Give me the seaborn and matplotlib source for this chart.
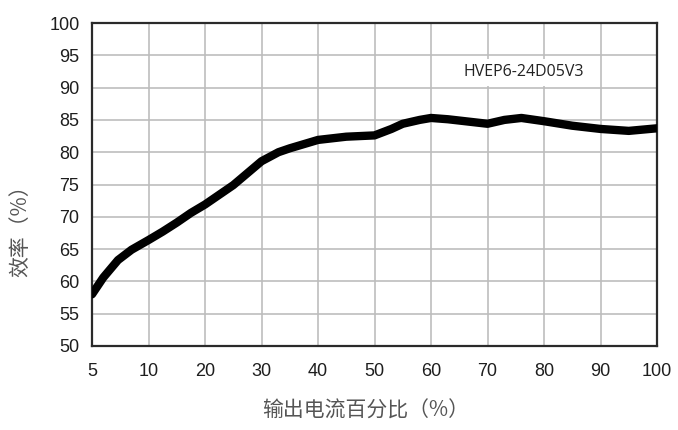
import numpy as np
import pandas as pd
import matplotlib
matplotlib.use("Agg")
import matplotlib.pyplot as plt
import seaborn as sns

# Output load (%) and measured efficiency (%)
load_pct = [5, 6, 7.3, 8.5, 10, 12.5, 15, 17.5, 20, 25, 30, 33, 35, 40, 45, 50,
            53, 55, 58, 60, 63, 67, 70, 73, 76, 80, 85, 90, 95, 100]
efficiency = [58.0, 60.6, 63.3, 64.9, 66.4, 67.7, 69.1, 70.6, 71.9, 74.9, 78.6, 80.0,
              80.6, 81.9, 82.4, 82.6, 83.6, 84.4, 85.0, 85.3, 85.1, 84.7, 84.4,
              85.0, 85.3, 84.8, 84.1, 83.6, 83.3, 83.7]

x_ticks = [5, 10, 20, 30, 40, 50, 60, 70, 80, 90, 100]
y_ticks = [50, 55, 60, 65, 70, 75, 80, 85, 90, 95, 100]
model_name = "HVEP6-24D05V3"
x_label = "输出电流百分比（%）"
y_label = "效率（%）"

df = pd.DataFrame({"load": load_pct, "eff": efficiency})

sns.set_theme(style="white")
plt.rcParams["font.family"] = ["Liberation Sans", "DejaVu Sans"]

fig = plt.figure(figsize=(6.78, 4.30), dpi=100)
ax = fig.add_axes([92 / 678, 1 - 346 / 430, (657 - 92) / 678, (346 - 23) / 430])

# Evenly spaced tick positions on a piecewise-linear load scale
tick_pos = np.arange(len(x_ticks), dtype=float)


def fwd(v):
    return np.interp(v, x_ticks, tick_pos)


def inv(p):
    return np.interp(p, tick_pos, x_ticks)


ax.set_xscale("function", functions=(fwd, inv))

sns.lineplot(data=df, x="load", y="eff", ax=ax, color="black", linewidth=6.0,
             sort=False, solid_capstyle="round", solid_joinstyle="round", zorder=5)

ax.set_xlim(5, 100)
ax.set_ylim(50, 100)
ax.set_xticks(x_ticks)
ax.set_xticklabels([str(t) for t in x_ticks])
ax.set_yticks(y_ticks)
ax.set_yticklabels([str(t) for t in y_ticks])
ax.grid(True, color="#bdbdbd", linewidth=1.2)
ax.set_axisbelow(True)
for s in ax.spines.values():
    s.set_visible(True)
    s.set_color("#2a2a2a")
    s.set_linewidth(1.6)
ax.tick_params(axis="both", length=0, labelsize=13, colors="#1e1e1e")
ax.tick_params(axis="y", pad=9)
ax.tick_params(axis="x", pad=12)
ax.set_xlabel("")
ax.set_ylabel("")

ax.text(0.765, 0.848, model_name, transform=ax.transAxes, ha="center", va="center",
        fontsize=11.5, family=["Open Sans", "DejaVu Sans"], color="#222222",
        bbox=dict(facecolor="white", edgecolor="none", pad=4), zorder=6)

cjk = ["Noto Sans CJK SC", "DejaVu Sans"]
fig.text(366 / 678, 1 - 411 / 430, x_label, ha="center", va="center",
         fontsize=15, family=cjk, color="#555555")
fig.text(20 / 678, 1 - 226 / 430, y_label, ha="center", va="center", rotation=90,
         fontsize=15, family=cjk, color="#555555")

fig.savefig("out.png", dpi=100, facecolor="white")
